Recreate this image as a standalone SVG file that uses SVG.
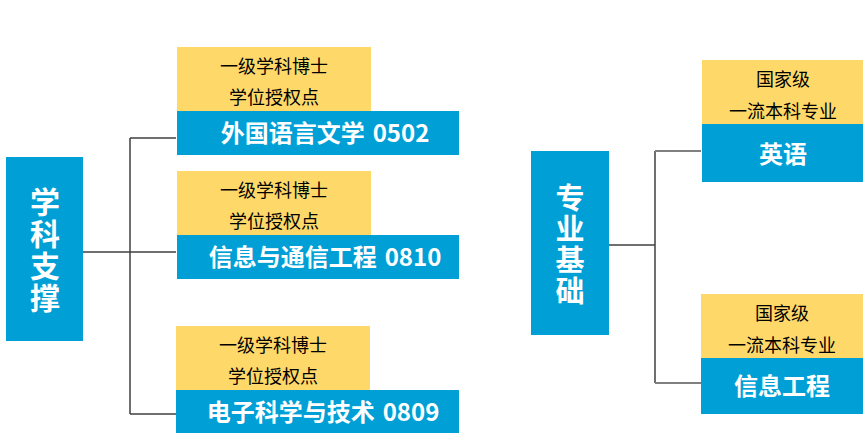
<svg xmlns="http://www.w3.org/2000/svg" width="865" height="447" viewBox="0 0 865 447">
<style>
.y{fill:#FED96A}
.b{fill:#00A0D6}
.yt{font-family:"Noto Sans CJK SC","Noto Sans",sans-serif;font-size:18px;fill:#000;text-anchor:middle}
.bt{font-family:"Noto Sans CJK SC","Noto Sans",sans-serif;font-size:24px;font-weight:bold;fill:#fff;text-anchor:middle}
.vt{font-family:"Noto Sans CJK SC","Noto Sans",sans-serif;font-size:30px;font-weight:bold;fill:#fff;text-anchor:middle;writing-mode:vertical-rl;letter-spacing:2px}
.vr{font-size:29px}
.ln{fill:none;stroke:#404040;stroke-width:1.5}
.lg{fill:none;stroke:#808080;stroke-width:2}
</style>
<rect width="865" height="447" fill="#fff"/>
<g id="connectors">
<path class="ln" d="M83 252H130M130 138V414M130 138H176M130 252H176M130 414H176"/>
<path class="ln" d="M609 245H655M655 151V383"/>
<path class="lg" d="M655 151H701M655 383H701"/>
</g>
<g id="xkzc">
<rect class="b" x="6" y="157" width="77" height="184"/>
<text class="vt" x="45" y="251">学科支撑</text>
</g>
<g id="wgy">
<rect class="y" x="177" y="47" width="194" height="64"/>
<text class="yt" x="274" y="73">一级学科博士</text>
<text class="yt" x="274" y="104">学位授权点</text>
<rect class="b" x="177" y="111" width="282" height="44"/>
<text class="bt" x="325" y="142">外国语言文学<tspan dx="8">0502</tspan></text>
</g>
<g id="xxtx">
<rect class="y" x="177" y="171" width="194" height="64"/>
<text class="yt" x="274" y="197">一级学科博士</text>
<text class="yt" x="274" y="228">学位授权点</text>
<rect class="b" x="177" y="235" width="282" height="44"/>
<text class="bt" x="325" y="266">信息与通信工程<tspan dx="8">0810</tspan></text>
</g>
<g id="dzkx">
<rect class="y" x="176" y="326" width="194" height="64"/>
<text class="yt" x="273" y="352">一级学科博士</text>
<text class="yt" x="273" y="383">学位授权点</text>
<rect class="b" x="176" y="390" width="283" height="43"/>
<text class="bt" x="323" y="421">电子科学与技术<tspan dx="8">0809</tspan></text>
</g>
<g id="zyjc">
<rect class="b" x="531" y="151" width="78" height="184"/>
<text class="vt vr" x="570" y="245">专业基础</text>
</g>
<g id="yy">
<rect class="y" x="702" y="60" width="161" height="64"/>
<text class="yt" x="783" y="86">国家级</text>
<text class="yt" x="783" y="118">一流本科专业</text>
<rect class="b" x="702" y="124" width="161" height="58"/>
<text class="bt" x="783" y="163">英语</text>
</g>
<g id="xxgc">
<rect class="y" x="701" y="294" width="162" height="64"/>
<text class="yt" x="782" y="320">国家级</text>
<text class="yt" x="782" y="352">一流本科专业</text>
<rect class="b" x="701" y="358" width="162" height="56"/>
<text class="bt" x="782" y="395">信息工程</text>
</g>
</svg>
